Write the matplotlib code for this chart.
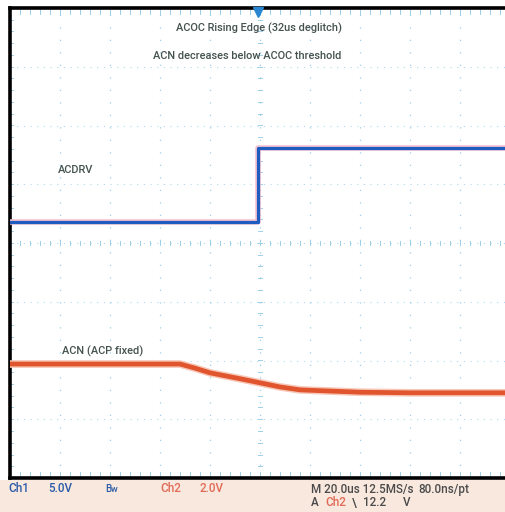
import matplotlib
matplotlib.use("Agg")
import matplotlib.pyplot as plt
from matplotlib.patches import Rectangle
import numpy as np

# ---- data (time in us, 20 us/div; levels in screen divisions) ----
acdrv_t = [-100, -0.8, 100]
acdrv_v = [0.35, 1.61, 1.61]

acn_t = [-100, -32, -26, -20, -14, -8, 0, 8, 16, 28, 40, 60, 100]
acn_v = [-2.06, -2.06, -2.13, -2.21, -2.26, -2.31, -2.38, -2.45, -2.50, -2.52, -2.54, -2.55, -2.55]

title_lines = ["ACOC Rising Edge (32us deglitch)", "ACN decreases below ACOC threshold"]
label_acdrv = "ACDRV"
label_acn = "ACN (ACP fixed)"

W, H = 506, 512
fig = plt.figure(figsize=(W / 100, H / 100), dpi=100)
fig.patch.set_facecolor("white")

FONT = ["Roboto", "DejaVu Sans"]

# bottom status bar
fig.patches.append(Rectangle((0, 0), 1, 32 / H, transform=fig.transFigure,
                             facecolor="#f8e8de", edgecolor="none", zorder=0))

ax = fig.add_axes([10 / W, 34 / H, 500 / W, 470 / H])
ax.set_xlim(-100, 100)
ax.set_ylim(-4, 4)
ax.set_facecolor("white")

gc = "#9ccfe8"
for x in np.arange(-80, 100, 20):
    ax.axvline(x, color=gc, lw=0.9, ls=(0, (1, 9)), zorder=1)
for y in np.arange(-3, 4, 1):
    ax.axhline(y, color=gc, lw=0.8, ls=(0, (1, 5)), zorder=1, alpha=0.8)
# centre cross ticks
for x in np.arange(-100, 101, 4):
    ax.plot([x, x], [-0.04, 0.04], color=gc, lw=0.7, zorder=1)
for y in np.arange(-4, 4.01, 0.2):
    ax.plot([-0.9, 0.9], [y, y], color=gc, lw=0.7, zorder=1)
# border ticks
for x in np.arange(-100, 101, 4):
    ax.plot([x, x], [3.9, 4], color=gc, lw=0.7, zorder=1)
    ax.plot([x, x], [-4, -3.9], color=gc, lw=0.7, zorder=1)
for y in np.arange(-4, 4.01, 0.2):
    ax.plot([-100, -99], [y, y], color=gc, lw=0.7, zorder=1)

# traces
ax.step(acdrv_t, acdrv_v, where="post", color="#f4c0cf", lw=4.0, zorder=3)
ax.step(acdrv_t, acdrv_v, where="post", color="#1f5cbf", lw=2.3, zorder=4)
ax.plot(acn_t, acn_v, color="#f7c6b6", lw=5.5, zorder=3, solid_capstyle="butt")
ax.plot(acn_t, acn_v, color="#e0552e", lw=3.4, zorder=4, solid_capstyle="butt")

# trigger marker
ax.plot([-0.8], [3.93], marker="v", color="#2a86d0", markersize=7, zorder=5, clip_on=False)

tc = "#44524f"
fs_a = 7.9
kw = dict(fontsize=fs_a, color=tc, family=FONT, fontweight="medium")
ax.text(-0.5, 3.66, title_lines[0], ha="center", va="center", **kw)
ax.text(-5.0, 3.18, title_lines[1], ha="center", va="center", **kw)
ax.text(-81, 1.25, label_acdrv, ha="left", va="center", **kw)
ax.text(-79, -1.85, label_acn, ha="left", va="center", **kw)

for s in ["left", "top", "bottom"]:
    ax.spines[s].set_linewidth(2.6)
    ax.spines[s].set_color("black")
ax.spines["right"].set_visible(False)
ax.set_xticks([])
ax.set_yticks([])

# status bar text
blue = "#2a5aa8"
red = "#e06a55"
fs = 8.4
def ft(xp, yp, s, c, size=fs):
    fig.text(xp / W, 1 - yp / H, s, color=c, fontsize=size, family=FONT,
             fontweight="medium", ha="left", va="center")

ft(8, 489, "Ch1", blue)
ft(48, 489, "5.0V", blue)
ft(105, 489, "B", blue, 7)
ft(111, 490, "w", blue, 6.5)
ft(160, 489, "Ch2", red)
ft(200, 489, "2.0V", red)
ft(311, 489, "M 20.0us 12.5MS/s", "#4a4a4a")
ft(418, 489, "80.0ns/pt", "#4a4a4a")
ft(311, 503, "A", "#4a4a4a")
ft(325, 503, "Ch2", red)
ft(352, 503, "\\", "#4a4a4a")
ft(363, 503, "12.2", "#4a4a4a")
ft(403, 503, "V", "#4a4a4a")

fig.savefig("out.png", dpi=100, facecolor=fig.get_facecolor())
